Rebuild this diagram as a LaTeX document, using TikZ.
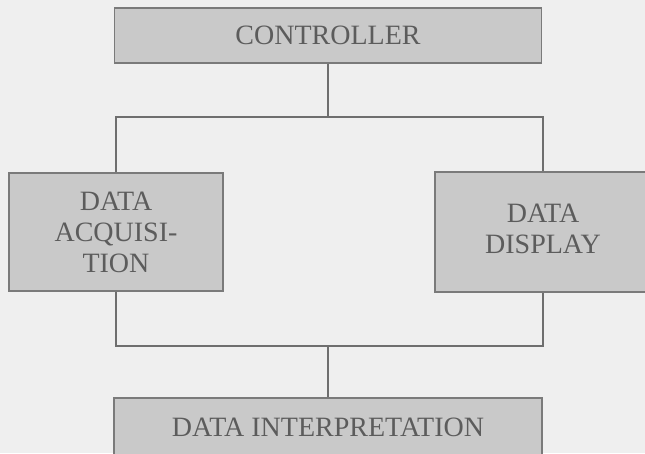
\documentclass[tikz,border=0pt]{standalone}
\usepackage{fontspec}
\setmainfont{Liberation Serif}
\definecolor{paper}{HTML}{EFEFEF}
\definecolor{boxfill}{HTML}{C9C9C9}
\definecolor{boxline}{HTML}{7A7A7A}
\definecolor{wire}{HTML}{6E6E6E}
\definecolor{ink}{HTML}{5C5C5C}
\tikzset{
  block/.style={draw=boxline, line width=1.6pt, fill=boxfill, text=ink,
    font=\fontsize{28}{31}\selectfont, align=center, inner sep=0pt},
  link/.style={draw=wire, line width=1.5pt}
}
\begin{document}
\begin{tikzpicture}[x=1pt, y=-1pt]
  % page and paper colour
  \useasboundingbox (0,0) rectangle (645,453);
  \clip (0,0) rectangle (645,453);
  \fill[paper] (0,0) rectangle (645,453);

  % the four blocks
  \node[block, minimum width=427pt, minimum height=55pt] (ctrl) at (328,35.5)
    {\raisebox{-4pt}{CONTROLLER}};
  \node[block, minimum width=214pt, minimum height=118pt] (acq) at (116,232)
    {DATA\\ACQUISI-\\TION};
  \node[block, minimum width=216pt, minimum height=120pt] (disp) at (543,232)
    {\raisebox{8pt}{\begin{tabular}{@{}c@{}}DATA\\DISPLAY\end{tabular}}};
  \node[block, minimum width=428pt, minimum height=58pt] (interp) at (328,427)
    {DATA INTERPRETATION};

  % bus bars
  \coordinate (tl) at (116,117);
  \coordinate (tr) at (543,117);
  \coordinate (bl) at (116,346);
  \coordinate (br) at (543,346);

  \draw[link] (ctrl.south) -- (ctrl.south |- tl);
  \draw[link] (acq.north) -- (tl) -- (tr) -- (disp.north);
  \draw[link] (acq.south) -- (bl) -- (br) -- (disp.south);
  \draw[link] (interp.north) -- (interp.north |- bl);
\end{tikzpicture}
\end{document}
